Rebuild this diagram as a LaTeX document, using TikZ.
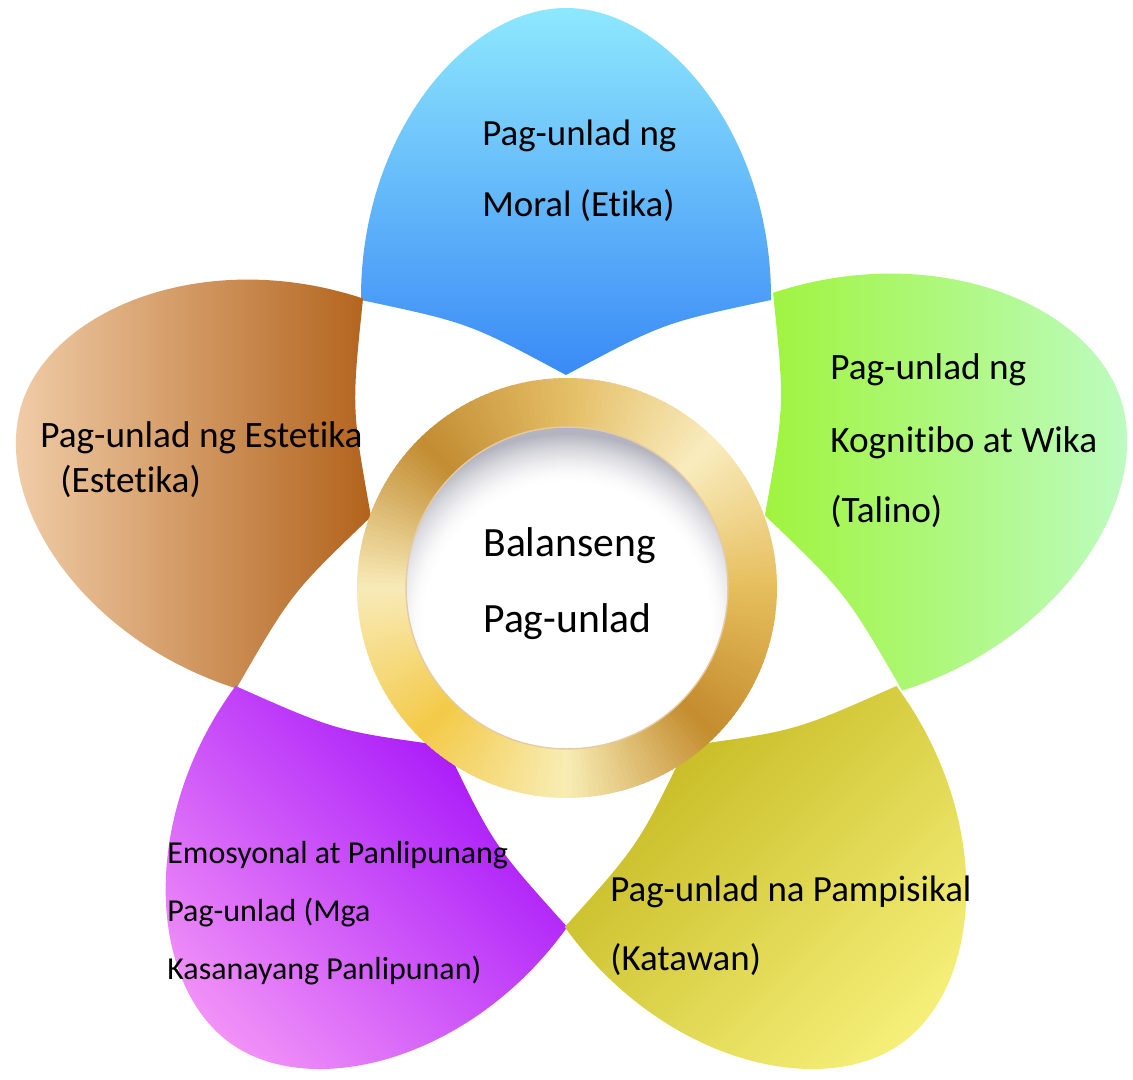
\documentclass[tikz,border=0pt]{standalone}
\usepackage{fontspec}
\setmainfont{Carlito}[Ligatures=NoCommon]
\definecolor{blA}{HTML}{8EE8FD}
\definecolor{blB}{HTML}{3A8AF6}
\definecolor{brA}{HTML}{F4D3B0}
\definecolor{brB}{HTML}{B2631C}
\definecolor{grA}{HTML}{A0F43E}
\definecolor{grB}{HTML}{BFFCC9}
\definecolor{yeA}{HTML}{C4B81E}
\definecolor{yeB}{HTML}{F8F27E}
\definecolor{puA}{HTML}{A30FFA}
\definecolor{puB}{HTML}{F598F7}
\definecolor{rg0}{HTML}{E6BE5C}
\definecolor{rg1}{HTML}{F9ECBE}
\definecolor{rg2}{HTML}{E4BE66}
\definecolor{rg3}{HTML}{C28C32}
\definecolor{rg4}{HTML}{F8EBB8}
\definecolor{rg5}{HTML}{F3CA48}
\definecolor{rg6}{HTML}{F8EDB5}
\definecolor{rg7}{HTML}{C48C2E}
\definecolor{shd}{HTML}{B4B4C0}
\newcommand\petalshape{(-205,280) .. controls (-206,445) and (-100,572) .. (0,572) .. controls (100,572) and (206,445) .. (205,280) .. controls (97,257) .. (0,205) .. controls (-97,257) .. cycle}
\tikzset{
  lbl/.style={inner sep=0pt, anchor=base west, text=black},
}
\begin{document}
\begin{tikzpicture}[x=0.02cm,y=0.02cm]
\useasboundingbox (0,0) rectangle (1133,1079);
\fill[white] (0,0) rectangle (1133,1079);
% petals
\begin{scope}[shift={(566,499)}]
  \shade[top color=blA, bottom color=blB] \petalshape;
\end{scope}
\begin{scope}[shift={(566,499)}, rotate=72]
  \shade[left color=brA, right color=brB] \petalshape;
\end{scope}
\begin{scope}[shift={(566,499)}, rotate=144]
  \shade[top color=puA, bottom color=puB, shading angle=-45] \petalshape;
\end{scope}
\begin{scope}[shift={(566,499)}, rotate=216]
  \shade[top color=yeA, bottom color=yeB, shading angle=45] \petalshape;
\end{scope}
\begin{scope}[shift={(566,499)}, rotate=288, scale=1.02]
  \shade[left color=grA, right color=grB] \petalshape;
\end{scope}
% ring
\begin{scope}[shift={(567,491)}]
  \foreach \ca/\cb [count=\i from 0] in {rg0/rg1,rg1/rg2,rg2/rg3,rg3/rg4,rg4/rg5,rg5/rg6,rg6/rg7,rg7/rg0}{
    \foreach \j in {0,...,29}{
      \pgfmathsetmacro\aa{45*\i+1.5*\j}
      \pgfmathsetmacro\ab{\aa+2.1}
      \pgfmathsetmacro\pp{100*(\j+0.5)/30}
      \fill[\cb!\pp!\ca] (\aa:4.2cm) arc[start angle=\aa, end angle=\ab, radius=4.2cm] -- (\ab:3.15cm) arc[start angle=\ab, end angle=\aa, radius=3.15cm] -- cycle;
    }
  }
  \begin{scope}
    \clip (0,0) circle[radius=3.21cm];
    \fill[shd] (0,0) circle[radius=3.3cm];
    \foreach \k in {0,...,24}{
      \pgfmathsetmacro\rr{3.85-0.04*\k}
      \pgfmathsetmacro\wp{100*(1-(1-\k/24)^1.6)}
      \fill[white!\wp!shd] (0,-0.75cm) circle[radius=\rr cm];
    }
  \end{scope}
  \draw[line width=0.8pt, color=rg3!45!white] (0,0) circle[radius=3.22cm];
\end{scope}
% labels
\node[lbl, font=\fontsize{21}{25}\selectfont] (b1) at (482,933) {Pag-unlad ng};
\node[lbl, font=\fontsize{21}{25}\selectfont] (b2) at (482,862) {Moral (Etika)};
\node[lbl, font=\fontsize{21.2}{25}\selectfont] (g1) at (830,699) {Pag-unlad ng};
\node[lbl, font=\fontsize{21.2}{25}\selectfont] (g2) at (830,626) {Kognitibo at Wika};
\node[lbl, font=\fontsize{21.2}{25}\selectfont] (g3) at (830,556) {(Talino)};
\node[lbl, font=\fontsize{21.2}{25}\selectfont] (e1) at (40,631) {Pag-unlad ng Estetika};
\node[lbl, font=\fontsize{21.2}{25}\selectfont] (e2) at (60,586) {(Estetika)};
\node[lbl, font=\fontsize{23.7}{28}\selectfont] (c1) at (483,522) {Balanseng};
\node[lbl, font=\fontsize{23.7}{28}\selectfont] (c2) at (483,446) {Pag-unlad};
\node[lbl, font=\fontsize{18.2}{22}\selectfont] (p1) at (167,215) {Emosyonal at Panlipunang};
\node[lbl, font=\fontsize{18.2}{22}\selectfont] (p2) at (167,157) {Pag-unlad (Mga};
\node[lbl, font=\fontsize{18.2}{22}\selectfont] (p3) at (167,99) {Kasanayang Panlipunan)};
\node[lbl, font=\fontsize{21}{25}\selectfont] (y1) at (610,177) {Pag-unlad na Pampisikal};
\node[lbl, font=\fontsize{21}{25}\selectfont] (y2) at (610,109) {(Katawan)};
\end{tikzpicture}
\end{document}
